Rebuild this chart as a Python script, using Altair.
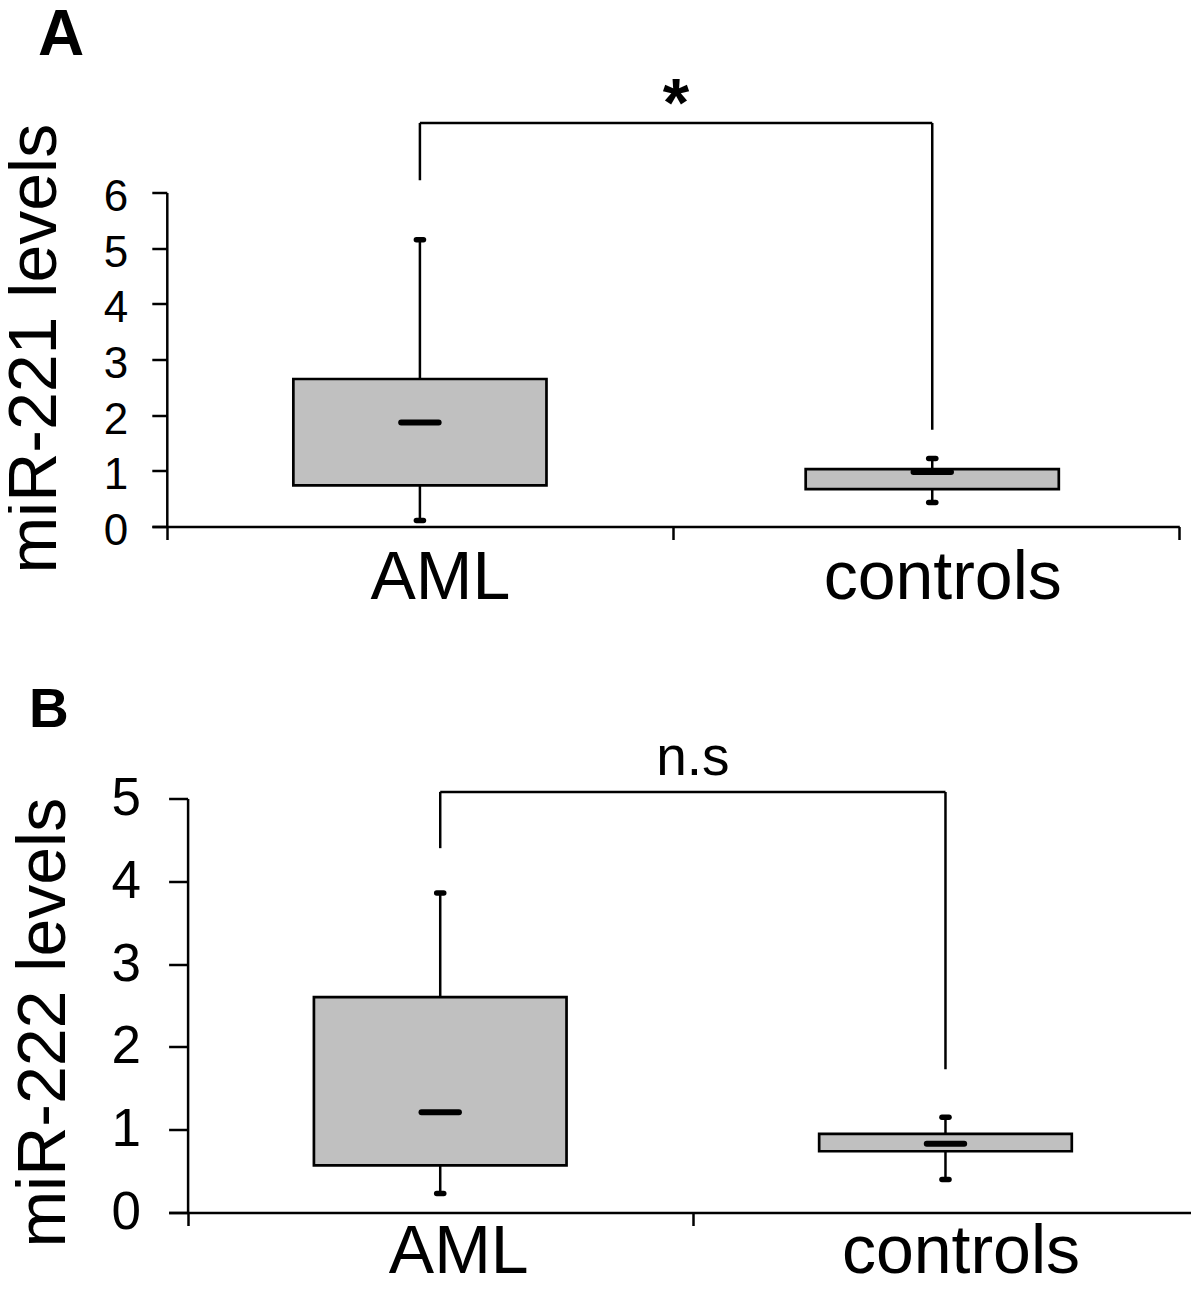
import altair as alt
import pandas as pd

FONT = "Liberation Sans"

# ---- data ----
categories = ["AML", "controls"]

# Panel A: miR-221
a_positions = [0.5, 1.512]
a_q1 = [0.74, 0.67]
a_q3 = [2.65, 1.03]
a_median = [1.87, 0.98]
a_low = [0.11, 0.43]
a_high = [5.15, 1.22]
a_bracket_top = 7.25
a_bracket_ends = [6.22, 1.74]
a_mark = "*"

# Panel B: miR-222
b_positions = [0.5, 1.5]
b_q1 = [0.57, 0.74]
b_q3 = [2.60, 0.95]
b_median = [1.21, 0.83]
b_low = [0.23, 0.40]
b_high = [3.86, 1.15]
b_bracket_top = 5.08
b_bracket_ends = [4.40, 1.73]
b_mark = "n.s"

# style constants
BOX_HALF = 0.25
MED_HALF = 0.037
CAP_HALF = 0.007

tick_op = {"condition": {"test": "datum.value % 1 != 0", "value": 0}, "value": 1}


def panel(positions, q1, q3, med, low, high, btop, bends, mark, ymax, ytitle,
          xdomain, xrange, width, height, yoffset, ytick, ylabelsize,
          ylabelpad, ylabeloffset, titlex, titley, xlabelpad, xlabeloffsets,
          letter, letter_size, letter_dx, letter_offset,
          mark_font, mark_weight, mark_dy):
    df = pd.DataFrame({
        "cat": categories, "pos": positions,
        "q1": q1, "q3": q3, "med": med, "low": low, "high": high,
    })
    df["bl"] = df["pos"] - BOX_HALF
    df["br"] = df["pos"] + BOX_HALF
    df["ml"] = df["pos"] - MED_HALF
    df["mr"] = df["pos"] + MED_HALF
    df["cl"] = df["pos"] - CAP_HALF
    df["cr"] = df["pos"] + CAP_HALF

    xscale = alt.Scale(domain=xdomain, range=xrange, nice=False, zero=False)
    yscale = alt.Scale(domain=[0, ymax], nice=False, zero=True)

    label_expr = (
        f"datum.value == {positions[0]} ? '{categories[0]}' : "
        f"datum.value == {positions[1]} ? '{categories[1]}' : ''"
    )
    label_off = {
        "condition": [
            {"test": f"datum.value == {positions[0]}", "value": xlabeloffsets[0]},
            {"test": f"datum.value == {positions[1]}", "value": xlabeloffsets[1]},
        ],
        "value": 0,
    }
    xaxis = alt.Axis(
        values=[0, positions[0], 1, positions[1], 2], labelExpr=label_expr,
        tickOpacity=tick_op,
        tickSize=13, tickWidth=2.5, tickColor="black",
        domainColor="black", domainWidth=2.5, grid=False, title=None,
        labelFont=FONT, labelFontSize=68, labelColor="black",
        labelPadding=xlabelpad, labelOffset=label_off, labelLimit=0,
        labelFlush=False, labelOverlap=False,
    )
    yaxis = alt.Axis(
        values=list(range(0, ymax + 1)), format="d", offset=yoffset,
        tickSize=ytick, tickWidth=2.5, tickColor="black",
        domainColor="black", domainWidth=2.5, grid=False,
        labelFont=FONT, labelFontSize=ylabelsize, labelColor="black",
        labelPadding=ylabelpad, labelOffset=ylabeloffset,
        title=ytitle, titleFont=FONT, titleFontSize=68, titleFontWeight="normal",
        titleColor="black", titleAngle=270, titleAlign="center",
        titleBaseline="alphabetic", titleX=titlex, titleY=titley,
    )

    base = alt.Chart(df)
    whisk = base.mark_rule(color="black", strokeWidth=2.5).encode(
        x=alt.X("pos:Q", scale=xscale, axis=xaxis),
        y=alt.Y("low:Q", scale=yscale, axis=yaxis),
        y2="high:Q",
    )
    box = base.mark_rect(fill="#c0c0c0", stroke="black", strokeWidth=2.7).encode(
        x="bl:Q", x2="br:Q", y="q1:Q", y2="q3:Q"
    )
    median = base.mark_rule(color="black", strokeWidth=6, strokeCap="round").encode(
        x="ml:Q", x2="mr:Q", y="med:Q"
    )
    cap_hi = base.mark_rule(color="black", strokeWidth=5.5, strokeCap="round").encode(
        x="cl:Q", x2="cr:Q", y="high:Q"
    )
    cap_lo = base.mark_rule(color="black", strokeWidth=5.5, strokeCap="round").encode(
        x="cl:Q", x2="cr:Q", y="low:Q"
    )

    seg = pd.DataFrame({
        "x": [positions[0], positions[0], positions[1]],
        "x2": [positions[1], positions[0], positions[1]],
        "y": [btop, btop, btop],
        "y2": [btop, bends[0], bends[1]],
    })
    bracket = alt.Chart(seg).mark_rule(color="black", strokeWidth=2.5).encode(
        x="x:Q", x2="x2:Q", y="y:Q", y2="y2:Q"
    )
    lab = pd.DataFrame({"x": [(positions[0] + positions[1]) / 2], "y": [btop], "t": [mark]})
    sig = alt.Chart(lab).mark_text(
        font=FONT, fontSize=mark_font, fontWeight=mark_weight, color="black",
        baseline="alphabetic", align="center", dy=mark_dy,
    ).encode(x="x:Q", y="y:Q", text="t:N")

    return alt.layer(whisk, box, median, cap_hi, cap_lo, bracket, sig).properties(
        width=width, height=height,
        title=alt.TitleParams(
            letter, anchor="start", frame="group", dx=letter_dx, offset=letter_offset,
            font=FONT, fontSize=letter_size, fontWeight="bold", color="black",
        ),
    )


chart_a = panel(
    a_positions, a_q1, a_q3, a_median, a_low, a_high, a_bracket_top, a_bracket_ends,
    a_mark, 6, "miR-221 levels",
    xdomain=[-0.0292, 2], xrange=[0, 1027.3], width=1027.3, height=334,
    yoffset=-14.8, ytick=15, ylabelsize=44, ylabelpad=24, ylabeloffset=5,
    titlex=-111.5, titley=155.7, xlabelpad=5, xlabeloffsets=[20, 10],
    letter="A", letter_size=64, letter_dx=-114, letter_offset=4,
    mark_font=68, mark_weight="bold", mark_dy=3,
)
chart_b = panel(
    b_positions, b_q1, b_q3, b_median, b_low, b_high, b_bracket_top, b_bracket_ends,
    b_mark, 5, "miR-222 levels",
    xdomain=[-0.0376, 2], xrange=[16.6, 1046.1], width=1046.1, height=414,
    yoffset=-35.6, ytick=19, ylabelsize=53, ylabelpad=28, ylabeloffset=0,
    titlex=-123, titley=223.7, xlabelpad=-7, xlabeloffsets=[18, 15],
    letter="B", letter_size=55, letter_dx=-123, letter_offset=-8,
    mark_font=55, mark_weight="normal", mark_dy=-17,
)

chart = alt.vconcat(chart_a, chart_b, spacing=70).configure(
    padding={"left": -7, "top": -4.5, "right": -9, "bottom": -10},
    background="white",
).configure_view(stroke=None)

chart.save("out.html", embed_options={"renderer": "svg", "actions": False})
